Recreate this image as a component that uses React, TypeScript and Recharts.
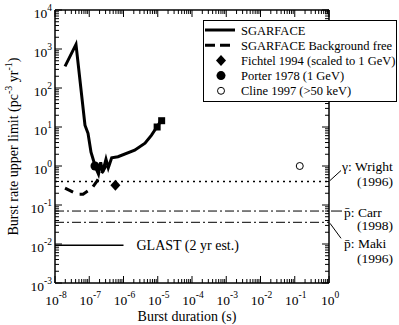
import React from 'react';
import { ComposedChart, Line, Scatter, XAxis, YAxis, ReferenceLine, Legend } from 'recharts';

// ---------- data ----------
const xMajorExponents = [-8, -7, -6, -5, -4, -3, -2, -1, 0];
const yMajorExponents = [-3, -2, -1, 0, 1, 2, 3, 4];
const minorMultipliers = [2, 3, 4, 5, 6, 7, 8, 9];

const sgarfaceDuration = [1.96e-8, 4.1e-8, 7.5e-8, 9.2e-8, 1.125e-7, 1.38e-7, 1.57e-7, 1.86e-7, 2.16e-7, 2.47e-7, 3.08e-7, 3.6e-7, 4.52e-7, 6.9e-7, 2.12e-6, 4.25e-6, 6.5e-6, 1.02e-5, 1.29e-5];
const sgarfaceRate = [358, 1310, 11.1, 6.9, 2.25, 1.25, 0.88, 0.62, 1.25, 0.7, 1.5, 0.9, 1.62, 1.73, 2.54, 3.83, 6.1, 11.1, 15.3];

const bgFreeDuration = [1.96e-8, 4.4e-8, 6.6e-8, 1.2e-7, 1.68e-7, 3.3e-7];
const bgFreeRate = [0.27, 0.19, 0.19, 0.27, 0.41, 1.11];

const endDuration = [9.6e-6, 1.3e-5];
const endRate = [10, 14.5];

const fichtelDuration = [5.8e-7];
const fichtelRate = [0.32];
const porterDuration = [1.47e-7];
const porterRate = [1.0];
const clineDuration = [0.14];
const clineRate = [1.0];

const glastDuration = [1e-8, 1e-6];
const glastRate = [0.0093, 0.0093];
const glastLabel = 'GLAST (2 yr est.)';

const wrightLimit = 0.4;
const carrLimit = 0.07;
const makiLimit = 0.036;

const legendNames = [
  'SGARFACE',
  'SGARFACE Background free',
  'Fichtel 1994 (scaled to 1 GeV)',
  'Porter 1978 (1 GeV)',
  'Cline 1997 (>50 keV)',
];

const xTitle = 'Burst duration (s)';

// ---------- layout ----------
const FONT = "'Liberation Serif', 'Times New Roman', Times, serif";
const W = 399;
const H = 325;
const MARGIN = { top: 10, right: 70, bottom: 0, left: 0 };
const Y_AXIS_W = 55;
const X_AXIS_H = 42;
const PLOT_W = W - MARGIN.left - MARGIN.right - Y_AXIS_W;
const PLOT_H = H - MARGIN.top - MARGIN.bottom - X_AXIS_H;

const zip = (xs: number[], ys: number[]) => xs.map((x, i) => ({ x, y: ys[i] }));

const buildTicks = (exps: number[]) => {
  const out: number[] = [];
  exps.forEach((e, i) => {
    out.push(Number(Math.pow(10, e).toPrecision(12)));
    if (i < exps.length - 1) {
      minorMultipliers.forEach((k) => out.push(Number((k * Math.pow(10, e)).toPrecision(12))));
    }
  });
  return out;
};

const xTicks = buildTicks(xMajorExponents);
const yTicks = buildTicks(yMajorExponents);

const majorExp = (v: number): number | null => {
  const e = Math.log10(v);
  return Math.abs(e - Math.round(e)) < 1e-9 ? Math.round(e) : null;
};

const XTick = (props: any) => {
  const { x, y, payload } = props;
  const e = majorExp(payload.value);
  const len = e !== null ? 7 : 4;
  return (
    <g>
      <line x1={x} y1={y} x2={x} y2={y - len} stroke="#000" strokeWidth={1} />
      <line x1={x} y1={y - PLOT_H} x2={x} y2={y - PLOT_H + len} stroke="#000" strokeWidth={1} />
      {e !== null && (
        <text x={x + 1} y={y + 22} textAnchor="middle" fontFamily={FONT} fontSize={13.5} fill="#000">
          10<tspan dy={-7} fontSize={9.5}>{String(e)}</tspan>
        </text>
      )}
    </g>
  );
};

const YTick = (props: any) => {
  const { x, y, payload } = props;
  const e = majorExp(payload.value);
  const len = e !== null ? 7 : 4;
  return (
    <g>
      <line x1={x} y1={y} x2={x + len} y2={y} stroke="#000" strokeWidth={1} />
      <line x1={x + PLOT_W} y1={y} x2={x + PLOT_W - len} y2={y} stroke="#000" strokeWidth={1} />
      {e !== null && (
        <text x={x - 3} y={y + 8} textAnchor="end" fontFamily={FONT} fontSize={13.5} fill="#000">
          10<tspan dy={-7} fontSize={9.5}>{String(e)}</tspan>
        </text>
      )}
    </g>
  );
};

const YTitle = (props: any) => {
  const vb = props.viewBox || { x: 0, y: MARGIN.top, height: PLOT_H };
  const cx = 18;
  const cy = vb.y + vb.height / 2;
  return (
    <text
      x={cx}
      y={cy}
      transform={`rotate(-90, ${cx}, ${cy})`}
      textAnchor="middle"
      fontFamily={FONT}
      fontSize={14}
      fill="#000"
    >
      Burst rate upper limit (pc<tspan dy={-6} fontSize={10}>-3</tspan>
      <tspan dy={6}> yr</tspan>
      <tspan dy={-6} fontSize={10}>-1</tspan>
      <tspan dy={6}>)</tspan>
    </text>
  );
};

const XTitle = (props: any) => {
  const vb = props.viewBox || { x: Y_AXIS_W, y: MARGIN.top + PLOT_H, width: PLOT_W };
  return (
    <text x={vb.x + vb.width / 2 - 5} y={vb.y + 38} textAnchor="middle" fontFamily={FONT} fontSize={14} fill="#000">
      {xTitle}
    </text>
  );
};

const annoText = (x: number, y: number, s: string) => (
  <text x={x} y={y} fontFamily={FONT} fontSize={13.5} fill="#000">
    {s}
  </text>
);

const WrightLabel = (props: any) => {
  const { viewBox } = props;
  const x = viewBox.x + viewBox.width;
  const y = viewBox.y;
  return (
    <g>
      <line x1={x + 1} y1={y - 1} x2={x + 12} y2={y - 11} stroke="#000" strokeWidth={1} />
      {annoText(x + 13, y - 10.5, '\u03b3: Wright')}
      {annoText(x + 28, y + 4, '(1996)')}
    </g>
  );
};

const CarrLabel = (props: any) => {
  const { viewBox } = props;
  const x = viewBox.x + viewBox.width;
  const y = viewBox.y;
  return (
    <g>
      <line x1={x + 2} y1={y} x2={x + 13} y2={y} stroke="#000" strokeWidth={1} />
      {annoText(x + 15, y + 5.5, 'p\u0304: Carr')}
      {annoText(x + 28, y + 19, '(1998)')}
    </g>
  );
};

const MakiLabel = (props: any) => {
  const { viewBox } = props;
  const x = viewBox.x + viewBox.width;
  const y = viewBox.y;
  return (
    <g>
      <line x1={x + 1} y1={y + 1} x2={x + 12} y2={y + 16} stroke="#000" strokeWidth={1} />
      {annoText(x + 15, y + 26, 'p\u0304: Maki')}
      {annoText(x + 28, y + 41, '(1996)')}
    </g>
  );
};

const GlastLabel = (props: any) => {
  const { x, y, index } = props;
  if (index !== glastDuration.length - 1) return null;
  return (
    <text x={x + 13} y={y + 5} fontFamily={FONT} fontSize={14} fill="#000">
      {glastLabel}
    </text>
  );
};

const diamondPath = (cx: number, cy: number, r: number) =>
  `M${cx},${cy - r - 0.5} L${cx + r},${cy} L${cx},${cy + r + 0.5} L${cx - r},${cy} Z`;

const DiamondShape = (p: any) => <path d={diamondPath(p.cx, p.cy, 5)} fill="#000" />;
const FilledCircleShape = (p: any) => <circle cx={p.cx} cy={p.cy} r={4.5} fill="#000" />;
const OpenCircleShape = (p: any) => <circle cx={p.cx} cy={p.cy} r={3.5} fill="#fff" stroke="#000" strokeWidth={1} />;
const SquareShape = (p: any) => <rect x={p.cx - 3.5} y={p.cy - 3.5} width={7} height={7} fill="#000" />;

const legendSymbol = (i: number, cx: number, cy: number) => {
  switch (i) {
    case 0:
      return <line x1={cx - 16} y1={cy} x2={cx + 14} y2={cy} stroke="#000" strokeWidth={3} />;
    case 1:
      return <line x1={cx - 16} y1={cy} x2={cx + 14} y2={cy} stroke="#000" strokeWidth={3} strokeDasharray="10 5" />;
    case 2:
      return <path d={diamondPath(cx, cy, 5)} fill="#000" />;
    case 3:
      return <circle cx={cx} cy={cy} r={4.5} fill="#000" />;
    default:
      return <circle cx={cx} cy={cy} r={3.5} fill="#fff" stroke="#000" strokeWidth={1} />;
  }
};

const LegendBox = () => (
  <div style={{ width: 192, height: 80, border: '1px solid #000', background: '#fff' }}>
    <svg width={192} height={80} style={{ display: 'block' }}>
      {legendNames.map((name, i) => {
        const cy = 9 + i * 15.2;
        return (
          <g key={name}>
            {legendSymbol(i, 17, cy)}
            <text x={37} y={cy + 4.5} fontFamily={FONT} fontSize={12.5} fill="#000">
              {name}
            </text>
          </g>
        );
      })}
    </svg>
  </div>
);

export default function App() {
  return (
    <div style={{ position: 'absolute', left: 0, top: 0, width: W, height: H, background: '#fff' }}>
      <ComposedChart width={W} height={H} margin={MARGIN}>
        <XAxis
          type="number"
          dataKey="x"
          scale="log"
          domain={[1e-8, 1]}
          allowDataOverflow
          ticks={xTicks}
          interval={0}
          tick={<XTick />}
          tickLine={false}
          tickSize={0}
          tickMargin={0}
          height={X_AXIS_H}
          axisLine={{ stroke: '#000', strokeWidth: 1.5 }}
          label={(p: any) => <XTitle {...p} />}
        />
        <YAxis
          type="number"
          dataKey="y"
          scale="log"
          domain={[1e-3, 1e4]}
          allowDataOverflow
          ticks={yTicks}
          interval={0}
          tick={<YTick />}
          tickLine={false}
          tickSize={0}
          tickMargin={0}
          width={Y_AXIS_W}
          axisLine={{ stroke: '#000', strokeWidth: 1.5 }}
          label={(p: any) => <YTitle {...p} />}
        />
        <ReferenceLine y={1e4} stroke="#000" strokeWidth={1.5} />
        <ReferenceLine x={1} stroke="#000" strokeWidth={1.5} />
        <ReferenceLine y={wrightLimit} stroke="#000" strokeWidth={1.5} strokeDasharray="2 4" label={(p: any) => <WrightLabel {...p} />} />
        <ReferenceLine y={carrLimit} stroke="#000" strokeWidth={1} strokeDasharray="9 3 2 3" label={(p: any) => <CarrLabel {...p} />} />
        <ReferenceLine y={makiLimit} stroke="#000" strokeWidth={1} strokeDasharray="9 3 2 3" label={(p: any) => <MakiLabel {...p} />} />
        <Line
          data={zip(glastDuration, glastRate)}
          dataKey="y"
          type="linear"
          stroke="#000"
          strokeWidth={1.5}
          dot={false}
          activeDot={false}
          legendType="none"
          isAnimationActive={false}
          label={(p: any) => <GlastLabel {...p} />}
        />
        <Line
          name={legendNames[1]}
          data={zip(bgFreeDuration, bgFreeRate)}
          dataKey="y"
          type="linear"
          stroke="#000"
          strokeWidth={3}
          strokeDasharray="9 7"
          dot={false}
          activeDot={false}
          isAnimationActive={false}
        />
        <Line
          name={legendNames[0]}
          data={zip(sgarfaceDuration, sgarfaceRate)}
          dataKey="y"
          type="linear"
          stroke="#000"
          strokeWidth={3}
          dot={false}
          activeDot={false}
          isAnimationActive={false}
        />
        <Scatter data={zip(endDuration, endRate)} shape={SquareShape} legendType="none" isAnimationActive={false} />
        <Scatter name={legendNames[2]} data={zip(fichtelDuration, fichtelRate)} shape={DiamondShape} isAnimationActive={false} />
        <Scatter name={legendNames[3]} data={zip(porterDuration, porterRate)} shape={FilledCircleShape} isAnimationActive={false} />
        <Scatter name={legendNames[4]} data={zip(clineDuration, clineRate)} shape={OpenCircleShape} isAnimationActive={false} />
        <Legend
          layout="vertical"
          align="center"
          verticalAlign="middle"
          content={() => <LegendBox />}
          wrapperStyle={{ position: 'absolute', left: 203, top: 20, width: 194, height: 82, margin: 0, padding: 0 }}
        />
      </ComposedChart>
    </div>
  );
}
